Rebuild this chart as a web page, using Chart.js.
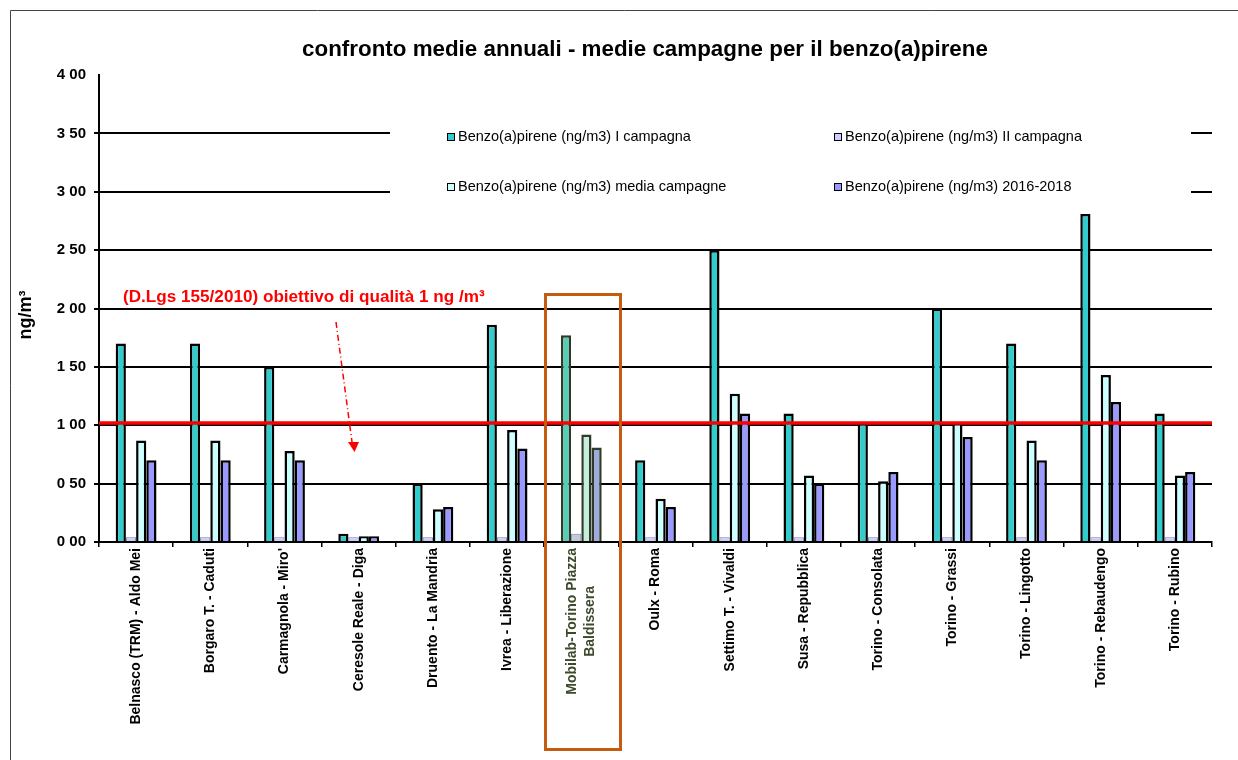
<!DOCTYPE html>
<html>
<head>
<meta charset="utf-8">
<script src="https://cdn.jsdelivr.net/npm/chart.js@4.4.1/dist/chart.umd.min.js"></script>
<style>
  html, body { margin: 0; padding: 0; background: #fff; }
  canvas { display: block; }
</style>
</head>
<body>
<canvas id="chart" width="1238" height="760"></canvas>
<script>
// stations (x axis categories)
const stations = [
    "Belnasco (TRM) - Aldo Mei", "Borgaro T. - Caduti", "Carmagnola - Miro'", "Ceresole Reale - Diga",
    "Druento - La Mandria", "Ivrea - Liberazione", ["Mobilab-Torino Piazza", "Baldissera"], "Oulx - Roma",
    "Settimo T. - Vivaldi", "Susa - Repubblica", "Torino - Consolata", "Torino - Grassi",
    "Torino - Lingotto", "Torino - Rebaudengo", "Torino - Rubino"
];

// series values in ng/m3
const primaCampagna = [1.70, 1.70, 1.50, 0.07, 0.50, 1.86, 1.77, 0.70, 2.50, 1.10, 1.02, 2.00, 1.70, 2.81, 1.10];
const secondaCampagna = [0.04, 0.04, 0.04, 0.04, 0.04, 0.04, 0.07, 0.04, 0.04, 0.04, 0.04, 0.04, 0.04, 0.04, 0.04];
const mediaCampagne = [0.87, 0.87, 0.78, 0.05, 0.28, 0.96, 0.92, 0.37, 1.27, 0.57, 0.52, 1.02, 0.87, 1.43, 0.57];
const media2016_2018 = [0.70, 0.70, 0.70, 0.05, 0.30, 0.80, 0.81, 0.30, 1.10, 0.50, 0.60, 0.90, 0.70, 1.20, 0.60];

const seriesNames = [
    "Benzo(a)pirene (ng/m3) I campagna",
    "Benzo(a)pirene (ng/m3) II campagna",
    "Benzo(a)pirene (ng/m3) media campagne",
    "Benzo(a)pirene (ng/m3) 2016-2018"
];

// y axis ticks
const yTicks = [0, 0.5, 1, 1.5, 2, 2.5, 3, 3.5, 4];

// quality target line (drawn where it sits in the picture)
const limitValue = 1.02;

const FONT = "'Liberation Sans', Arial, sans-serif";
const MOBILAB = 6;

const baseColors = ["#33CCCC", "#CCCCFF", "#CCFFFF", "#9999FF"];
const mobilabColors = ["#57CDB8", "#C4CAD8", "#C6EEDC", "#A0AADC"];

function colorsFor(s) {
    return stations.map((_, i) => i === MOBILAB ? mobilabColors[s] : baseColors[s]);
}
function bordersFor(s) {
    if (s === 1) return stations.map(() => "#7c7cb4");
    return stations.map((_, i) => i === MOBILAB ? "#2f3a28" : "#000");
}

const seriesData = [primaCampagna, secondaCampagna, mediaCampagne, media2016_2018];

// fit a font size so the text gets a given width
function fitFont(ctx, text, weight, size, width) {
    ctx.font = weight + " " + size + "px " + FONT;
    const w = ctx.measureText(text).width;
    ctx.font = weight + " " + (size * width / w).toFixed(2) + "px " + FONT;
}

// draws title, legend box, red limit line, arrow, note, the orange box and frame
const decorations = {
    id: "decorations",
    beforeDraw(chart) {
        const ctx = chart.ctx;
        ctx.save();
        ctx.fillStyle = "#fff";
        ctx.fillRect(0, 0, chart.width, chart.height);
        ctx.strokeStyle = "#444";
        ctx.lineWidth = 1;
        ctx.beginPath();
        ctx.moveTo(10.5, 760);
        ctx.lineTo(10.5, 10.5);
        ctx.lineTo(1238, 10.5);
        ctx.stroke();
        ctx.restore();
    },
    beforeDatasetsDraw(chart) {
        const ctx = chart.ctx;
        ctx.save();
        // legend area hides the gridlines behind it
        ctx.fillStyle = "#fff";
        ctx.fillRect(390, 104, 801, 108);
        fitFont(ctx, seriesNames[0], "normal", 13, 233);
        ctx.textBaseline = "middle";
        const pos = [[447, 137], [834, 137], [447, 187], [834, 187]];
        seriesNames.forEach((name, k) => {
            const [x, y] = pos[k];
            ctx.fillStyle = baseColors[k];
            ctx.fillRect(x, y - 4, 8, 8);
            ctx.strokeStyle = "#000";
            ctx.lineWidth = 1;
            ctx.strokeRect(x + 0.5, y - 3.5, 7, 7);
            ctx.fillStyle = "#000";
            ctx.fillText(name, x + 11, y);
        });
        ctx.restore();
    },
    afterDatasetsDraw(chart) {
        const ctx = chart.ctx;
        const area = chart.chartArea;
        const yScale = chart.scales.y;
        const xScale = chart.scales.x;
        ctx.save();

        // red limit line
        const yl = yScale.getPixelForValue(limitValue);
        ctx.strokeStyle = "#FF0000";
        ctx.lineWidth = 3.5;
        ctx.beginPath();
        ctx.moveTo(area.left, yl);
        ctx.lineTo(area.right, yl);
        ctx.stroke();

        // note text
        ctx.fillStyle = "#FF0000";
        const note = "(D.Lgs 155/2010) obiettivo di qualità 1 ng /m³";
        fitFont(ctx, note, "bold", 15, 362);
        ctx.textBaseline = "middle";
        ctx.textAlign = "left";
        ctx.fillText(note, 123, 297);

        // dashed arrow pointing down
        ctx.setLineDash([6, 3, 1, 3]);
        ctx.lineWidth = 1.5;
        ctx.beginPath();
        ctx.moveTo(336, 322);
        ctx.lineTo(352, 442);
        ctx.stroke();
        ctx.setLineDash([]);
        ctx.beginPath();
        ctx.moveTo(348, 442);
        ctx.lineTo(359, 442);
        ctx.lineTo(354.5, 452);
        ctx.closePath();
        ctx.fill();

        // two-line Mobilab label, lines centred on each other
        const lines = stations[MOBILAB];
        const cx = xScale.getPixelForTick(MOBILAB);
        ctx.font = "bold 14px " + FONT;
        const len = ctx.measureText(lines[0]).width;
        ctx.translate(cx, area.bottom + 6 + len / 2);
        ctx.rotate(-Math.PI / 2);
        ctx.fillStyle = "#3c4a2c";
        ctx.textAlign = "center";
        ctx.fillText(lines[0], 0, -9);
        ctx.fillText(lines[1], 0, 9);
        ctx.setTransform(1, 0, 0, 1, 0, 0);

        // orange highlight box around Mobilab
        ctx.strokeStyle = "#C55A11";
        ctx.lineWidth = 3;
        ctx.strokeRect(545.5, 294.5, 75, 455);
        ctx.restore();
    },
    afterDraw(chart) {
        const ctx = chart.ctx;
        ctx.save();
        // chart title
        ctx.fillStyle = "#000";
        ctx.textAlign = "center";
        ctx.textBaseline = "middle";
        const title = "confronto medie annuali - medie campagne per il benzo(a)pirene";
        fitFont(ctx, title, "bold", 20, 686);
        ctx.fillText(title, 645, 50);

        // y axis title
        ctx.translate(26, 315);
        ctx.rotate(-Math.PI / 2);
        ctx.font = "bold 18px " + FONT;
        ctx.fillText("ng/m³", 0, 0);
        ctx.restore();
    }
};

const chart = new Chart(document.getElementById("chart"), {
    type: "bar",
    data: {
        labels: stations,
        datasets: seriesData.map((values, s) => ({
            label: seriesNames[s],
            data: values,
            backgroundColor: colorsFor(s),
            borderColor: bordersFor(s),
            borderWidth: s === 1 ? 1 : 2.5,
            categoryPercentage: 0.55,
            barPercentage: 1.0
        }))
    },
    options: {
        responsive: false,
        animation: false,
        events: [],
        layout: { padding: { top: 75, right: 26, left: 0, bottom: 0 } },
        plugins: {
            legend: { display: false },
            tooltip: { enabled: false },
            title: { display: false }
        },
        scales: {
            x: {
                grid: {
                    offset: true,
                    drawOnChartArea: false,
                    drawTicks: true,
                    tickLength: 5,
                    color: "#000",
                    lineWidth: 1.5
                },
                border: { color: "#000", width: 2 },
                ticks: {
                    autoSkip: false,
                    minRotation: 90,
                    maxRotation: 90,
                    padding: 1,
                    color: "#000",
                    font: { family: FONT, size: 14, weight: "bold" },
                    // the Mobilab label is drawn by the plugin so both lines stay centred
                    callback: (v, i) => i === MOBILAB ? "" : stations[i]
                },
                afterFit(scale) { scale.height = 218; }
            },
            y: {
                min: 0,
                max: 4,
                afterBuildTicks(scale) { scale.ticks = yTicks.map(v => ({ value: v })); },
                grid: {
                    color: (c) => c.tick && c.tick.value === 4 ? "rgba(0,0,0,0)" : "#000",
                    lineWidth: 2,
                    tickLength: 5
                },
                border: { color: "#000", width: 2 },
                ticks: {
                    padding: 8,
                    color: "#000",
                    font: { family: FONT, size: 15, weight: "bold" },
                    callback: (v) => v.toFixed(2).replace(".", " ")
                },
                afterFit(scale) { scale.width = 99; }
            }
        }
    },
    plugins: [decorations]
});
</script>
</body>
</html>
